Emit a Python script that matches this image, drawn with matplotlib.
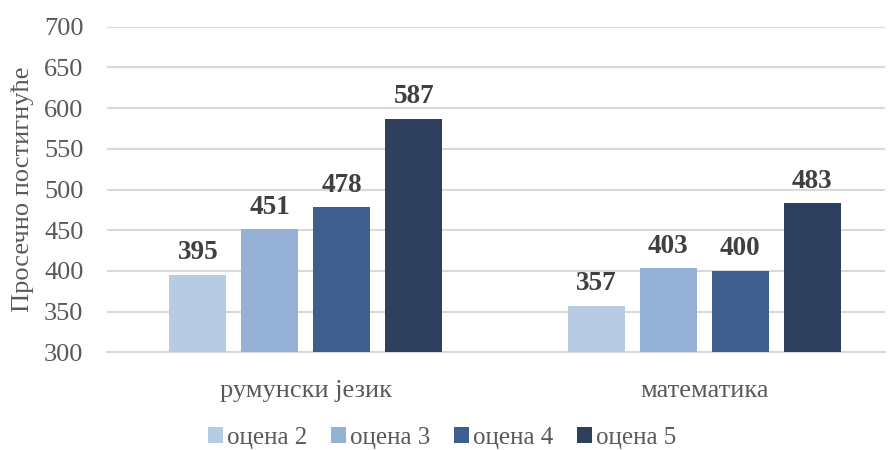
import numpy as np
import matplotlib.pyplot as plt

categories = ["румунски језик", "математика"]
series_names = ["оцена 2", "оцена 3", "оцена 4", "оцена 5"]
values = [
    [395, 357],
    [451, 403],
    [478, 400],
    [587, 483],
]
colors = ["#B7CBE3", "#95B1D6", "#3E5F8E", "#2E405E"]

plt.rcParams["font.family"] = ["Liberation Serif", "DejaVu Serif"]

fig = plt.figure(figsize=(8.9, 4.5), dpi=100)
ax = fig.add_axes([107 / 890, 1 - 352.3 / 450, (885 - 107) / 890, (352.3 - 26.7) / 450])

x = np.arange(len(categories))
step = 0.1807
width = 0.143

for i, (name, vals) in enumerate(zip(series_names, values)):
    offset = (i - 1.5) * step
    bars = ax.bar(x + offset, vals, width=width, color=colors[i], label=name, zorder=3)
    for bar, v in zip(bars, vals):
        ax.annotate(
            str(v),
            (bar.get_x() + bar.get_width() / 2, v),
            xytext=(0, 7),
            textcoords="offset points",
            ha="center",
            va="bottom",
            fontsize=19.5,
            fontweight="bold",
            color="#404040",
        )

ax.set_xlim(-0.4994, 1.454)
ax.set_ylim(300, 700)
ax.set_yticks(np.arange(300, 701, 50))
ax.yaxis.grid(True, color="#D9D9D9", linewidth=1.5, zorder=0)
ax.set_xticks(x)
ax.set_xticklabels(categories)

for side in ["top", "right", "left"]:
    ax.spines[side].set_visible(False)
ax.spines["bottom"].set_color("#D9D9D9")
ax.spines["bottom"].set_linewidth(1.5)

ax.tick_params(axis="both", length=0, labelsize=19, labelcolor="#595959")
ax.tick_params(axis="x", pad=20)
ax.tick_params(axis="y", pad=17)

ax.set_ylabel("Просечно постигнуће", fontsize=19, color="#595959")
ax.yaxis.set_label_coords(-0.094, 0.5)

fig.legend(
    loc="center",
    bbox_to_anchor=(442 / 890, 1 - 438 / 450),
    ncol=4,
    frameon=False,
    fontsize=18,
    labelcolor="#595959",
    handlelength=0.6,
    handleheight=0.6,
    handletextpad=0.16,
    columnspacing=0.95,
)

fig.savefig("out.png", dpi=100)
